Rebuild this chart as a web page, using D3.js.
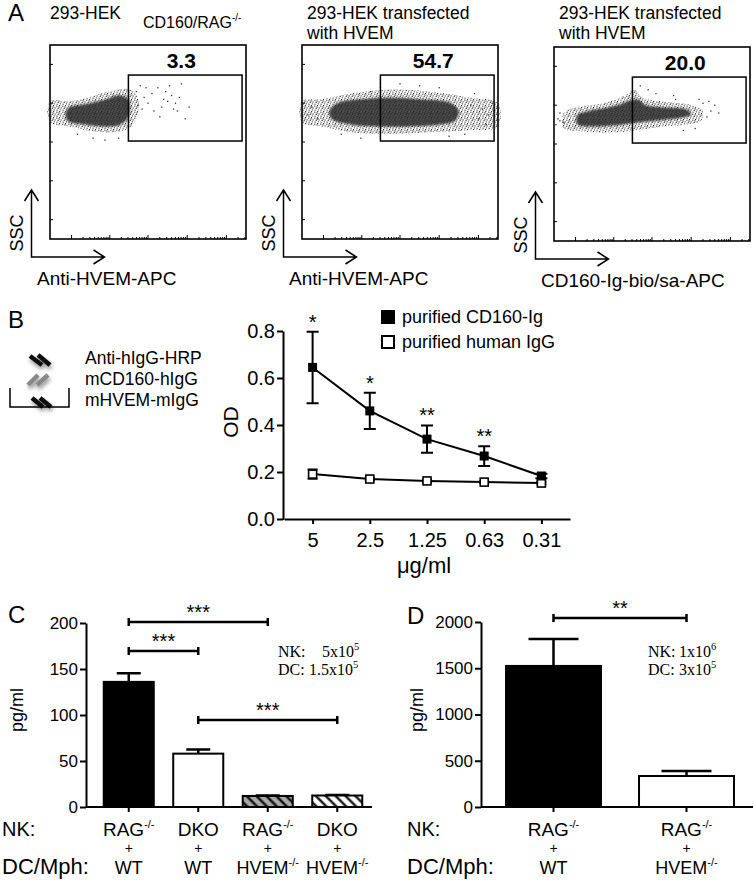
<!DOCTYPE html>
<html>
<head>
<meta charset="utf-8">
<script src="https://cdn.jsdelivr.net/npm/d3@7"></script>
<style>
  html, body { margin: 0; padding: 0; background: #fff; }
  svg { display: block; font-family: "Liberation Sans", Arial, sans-serif; }
  .serif { font-family: "Liberation Serif", "Times New Roman", serif; }
</style>
</head>
<body>
<svg id="fig" width="754" height="886"></svg>
<script>
// ---------- Panel A data (flow plots, axis units 0-100) ----------
const flowTitles = [["293-HEK"], ["293-HEK transfected", "with HVEM"], ["293-HEK transfected", "with HVEM"]];
const flowXLabels = ["Anti-HVEM-APC", "Anti-HVEM-APC", "CD160-Ig-bio/sa-APC"];
const gatePercents = ["3.3", "54.7", "20.0"];
const gateBounds = [40, 98, 50.5, 84.5]; // x0, x1, y0, y1

const coreClouds = [
  [[9,61],[18,59],[28,58],[36,59],[40,63],[40,72],[35,74],[27,71.5],[18,69.5],[10,68],[8,65]],
  [[15,62],[25,59],[40,58],[55,58],[70,59],[78,61],[80,66],[76,70],[60,72],[45,73],[30,72],[18,70],[14,66]],
  [[12,60],[20,59],[30,59.5],[38,60.5],[46,61.5],[56,62.5],[65,63.5],[70,65.5],[67,68],[55,69],[47,70],[43,73],[39,72.5],[34,70.5],[26,68.5],[18,67],[12,65]]
];
const haloClouds = [
  [[0,60],[10,58],[22,55.5],[32,55],[40,57],[44,62],[45,72],[41,77],[30,76],[20,73],[10,71],[0,71]],
  [[0,60],[10,58],[25,55],[45,54],[65,55],[85,56],[100,58],[100,70],[85,73],[65,76],[45,77],[25,75],[10,72],[0,71]],
  [[5,58],[15,56.5],[30,56],[42,57],[55,59],[68,60],[75,62],[76,67],[70,70],[55,72],[45,74],[41,78],[36,75],[25,71],[12,69],[5,66]]
];
const strayEvents = [
  [[44,76],[46,79],[48,73],[50,70],[52,75],[55,78],[57,68],[58,72],[60,71],[62,74],[63,67],[65,66],[66,73],
   [67,80],[69,62],[71,68],[53,66],[47,67],[49,78],[61,79],[45,69],[56,63],[59,76],[64,70],[22,52],[28,51],[14,54],[35,52]],
  [[3,64],[5,68],[8,62],[90,62],[92,67],[95,64],[97,70],[88,75],[83,54],[70,78],[60,79],[50,80],[40,78],[35,76],
   [20,54],[30,52],[75,53],[94,59],[98,66],[86,69]],
  [[2,63],[3,66],[1,60],[78,64],[80,67],[82,70],[79,72],[74,73],[61,75],[52,76],[48,78],[44,80],[72,58],[66,57],
   [62,73],[84,66],[76,71],[3,62],[5,61]]
];
const flowYTicks = [10, 30, 50, 70, 90];
const flowXDecades = [11, 30.5, 50, 70, 90];

// ---------- Panel B data ----------
const diagramLabels = ["Anti-hIgG-HRP", "mCD160-hIgG", "mHVEM-mIgG"];
const concLabels = ["5", "2.5", "1.25", "0.63", "0.31"];
const cd160Mean = [0.645, 0.46, 0.34, 0.268, 0.183];
const cd160Err = [0.152, 0.077, 0.058, 0.042, 0.01];
const igMean = [0.191, 0.17, 0.162, 0.157, 0.153];
const igErr = [0.02, 0.005, 0.005, 0.004, 0.005];
const odStars = ["*", "*", "**", "**", ""];
const odTicks = [0, 0.2, 0.4, 0.6, 0.8];
const legendLabels = ["purified CD160-Ig", "purified human IgG"];

// ---------- Panel C data ----------
const cNK = [["RAG", "-/-"], ["DKO", ""], ["RAG", "-/-"], ["DKO", ""]];
const cDC = [["WT", ""], ["WT", ""], ["HVEM", "-/-"], ["HVEM", "-/-"]];
const cMean = [136, 58, 12, 12.5];
const cErr = [9.5, 4.5, 0.5, 0.5];
const cFills = ["#000", "#fff", "hatchGray", "hatchWhite"];
const cBrackets = [[0, 2, 201, "***"], [0, 1, 169.5, "***"], [1, 3, 94.6, "***"]];
const cTicks = [0, 50, 100, 150, 200];

// ---------- Panel D data ----------
const dNK = [["RAG", "-/-"], ["RAG", "-/-"]];
const dDC = [["WT", ""], ["HVEM", "-/-"]];
const dMean = [1525, 335];
const dErr = [290, 55];
const dFills = ["#000", "#fff"];
const dBrackets = [[0, 1, 2043, "**"]];
const dTicks = [0, 500, 1000, 1500, 2000];

const svg = d3.select("#fig");
const defs = svg.append("defs");

// --- patterns / filters ---
const haloPat = defs.append("pattern").attr("id", "halo")
  .attr("width", 6).attr("height", 6).attr("patternUnits", "userSpaceOnUse");
[[0.8,1.2],[3.6,0.5],[2.2,3.4],[5.1,2.9],[1.1,5.2],[4.3,4.8],[3.0,2.0]].forEach(p =>
  haloPat.append("circle").attr("cx", p[0]).attr("cy", p[1]).attr("r", 0.65).attr("fill", "#2a2a2a"));

const corePat = defs.append("pattern").attr("id", "coreDots")
  .attr("width", 4).attr("height", 4).attr("patternUnits", "userSpaceOnUse");
corePat.append("rect").attr("width", 4).attr("height", 4).attr("fill", "#1a1a1a");
[[1,1],[3,2.6]].forEach(p =>
  corePat.append("circle").attr("cx", p[0]).attr("cy", p[1]).attr("r", 0.6).attr("fill", "#7a7a7a"));

function hatch(id, bg) {
  const p = defs.append("pattern").attr("id", id)
    .attr("width", 7).attr("height", 7).attr("patternUnits", "userSpaceOnUse")
    .attr("patternTransform", "rotate(-45)");
  p.append("rect").attr("width", 7).attr("height", 7).attr("fill", bg);
  p.append("line").attr("x1", 3.5).attr("y1", 0).attr("x2", 3.5).attr("y2", 7)
    .attr("stroke", "#000").attr("stroke-width", 2.2);
}
hatch("hatchGray", "#a8a8a8");
hatch("hatchWhite", "#fff");

defs.append("filter").attr("id", "soft")
  .append("feGaussianBlur").attr("stdDeviation", 0.9);

const sh = defs.append("filter").attr("id", "shadow").attr("x", "-50%").attr("y", "-50%").attr("width", "200%").attr("height", "200%");
sh.append("feGaussianBlur").attr("in", "SourceAlpha").attr("stdDeviation", 2).attr("result", "b");
sh.append("feOffset").attr("in", "b").attr("dx", 1).attr("dy", 3).attr("result", "o");
sh.append("feComponentTransfer").attr("in", "o").attr("result", "s")
  .append("feFuncA").attr("type", "linear").attr("slope", 0.45);
const shm = sh.append("feMerge");
shm.append("feMergeNode").attr("in", "s");
shm.append("feMergeNode").attr("in", "SourceGraphic");

function label(txt, x, y, size) {
  return svg.append("text").attr("x", x).attr("y", y).attr("font-size", size).text(txt);
}
function supText(sel, main, sup, supSize) {
  sel.append("tspan").text(main);
  if (sup) sel.append("tspan").attr("font-size", supSize).attr("dy", -supSize * 0.75).text(sup);
}

// =================== Panel A ===================
label("A", 8, 21, 24);
const flowBoxes = [{ x: 50, y: 45 }, { x: 302, y: 45 }, { x: 554, y: 47 }];
const FW = 196, FH = 194;
const titleX = [50, 307, 559];

flowTitles.forEach((lines, i) => {
  const b = flowBoxes[i];
  lines.forEach((t, k) => label(t, titleX[i], 19 + k * 19.5, 17.5));

  const g = svg.append("g").attr("transform", `translate(${b.x},${b.y})`);
  const x = d3.scaleLinear().domain([0, 100]).range([0, FW]);
  const y = d3.scaleLinear().domain([0, 100]).range([FH, 0]);
  const blob = d3.line().x(d => x(d[0])).y(d => y(d[1])).curve(d3.curveCatmullRomClosed);

  g.append("path").attr("d", blob(haloClouds[i])).attr("fill", "url(#halo)");
  g.append("path").attr("d", blob(coreClouds[i])).attr("fill", "url(#coreDots)").attr("opacity", 0.85).attr("filter", "url(#soft)");
  g.selectAll("rect.ev").data(strayEvents[i]).join("rect").attr("class", "ev")
    .attr("x", d => x(d[0]) - 0.6).attr("y", d => y(d[1]) - 0.6)
    .attr("width", 1.3).attr("height", 1.3).attr("fill", "#333");

  // ticks (inside)
  g.selectAll("line.yt").data(flowYTicks).join("line").attr("class", "yt")
    .attr("x1", 0).attr("x2", 3).attr("y1", d => y(d)).attr("y2", d => y(d))
    .attr("stroke", "#000").attr("stroke-width", 1);
  const xt = [];
  flowXDecades.forEach((m, j) => {
    xt.push({ v: m, len: 4 });
    if (j > 0) {
      const prev = flowXDecades[j - 1];
      for (let k = 2; k <= 9; k++) xt.push({ v: prev + (m - prev) * Math.log10(k), len: 2 });
    }
  });
  for (let k = 2; k <= 4; k++) xt.push({ v: 90 + 19.7 * Math.log10(k), len: 2 });
  g.selectAll("line.xt").data(xt.filter(d => d.v < 100)).join("line").attr("class", "xt")
    .attr("x1", d => x(d.v)).attr("x2", d => x(d.v)).attr("y1", FH).attr("y2", d => FH - d.len)
    .attr("stroke", "#000").attr("stroke-width", 1);

  g.append("rect").attr("width", FW).attr("height", FH)
    .attr("fill", "none").attr("stroke", "#000").attr("stroke-width", 1.6);

  g.append("rect")
    .attr("x", x(gateBounds[0])).attr("y", y(gateBounds[3]))
    .attr("width", x(gateBounds[1]) - x(gateBounds[0]))
    .attr("height", y(gateBounds[2]) - y(gateBounds[3]))
    .attr("fill", "none").attr("stroke", "#000").attr("stroke-width", 1.5);
  g.append("text").attr("x", x((gateBounds[0] + gateBounds[1]) / 2) - 4).attr("y", y(gateBounds[3]) - 7)
    .attr("text-anchor", "middle").attr("font-size", 21).attr("font-weight", "bold").text(gatePercents[i]);

  // arrows
  const ax = -18.5, ay0 = FH + 18, ayTop = ay0 - 67, axRight = ax + 73;
  g.append("path")
    .attr("d", `M${ax},${ayTop}V${ay0}H${axRight} M${ax - 7},${ayTop + 11}L${ax},${ayTop}L${ax + 7},${ayTop + 11} M${axRight - 11},${ay0 - 7}L${axRight},${ay0}L${axRight - 11},${ay0 + 7}`)
    .attr("fill", "none").attr("stroke", "#000").attr("stroke-width", 1.5);
  g.append("text").attr("transform", `translate(-27,${FH - 6}) rotate(-90)`)
    .attr("text-anchor", "middle").attr("font-size", 18).text("SSC");
  g.append("text").attr("x", -13).attr("y", FH + 46).attr("font-size", 19).text(flowXLabels[i]);
});
supText(svg.append("text").attr("x", 143).attr("y", 28).attr("font-size", 16), "CD160/RAG", "-/-", 10);

// =================== Panel B ===================
label("B", 8, 328, 24);

// schematic
const glyphs = [
  { c: "#111", pts: [[30, 356, 42, 365], [38, 355, 50, 365]] },
  { c: "#888", pts: [[28, 385, 38, 375], [37, 385, 48, 375]] },
  { c: "#111", pts: [[32, 398, 43, 407], [40, 398, 51, 407]] }
];
const sg = svg.append("g").attr("filter", "url(#shadow)");
glyphs.forEach(gl => gl.pts.forEach(p => sg.append("line")
  .attr("x1", p[0]).attr("y1", p[1]).attr("x2", p[2]).attr("y2", p[3])
  .attr("stroke", gl.c).attr("stroke-width", 4.5)));
svg.append("path").attr("d", "M10,388V407H69V388").attr("fill", "none").attr("stroke", "#000").attr("stroke-width", 1.5);
diagramLabels.forEach((t, i) => label(t, 85, 364 + i * 21, 17.5));

const xB = d3.scalePoint().domain(concLabels).range([284, 570]).padding(0.5);
const yB = d3.scaleLinear().domain([0, 0.8]).range([519, 331]);

function styleAxis(g, size) {
  g.attr("font-size", size).attr("font-family", "Liberation Sans, Arial, sans-serif");
  g.selectAll("path.domain, .tick line").attr("stroke-width", 2);
  g.selectAll("text").attr("fill", "#000");
}
svg.append("g").attr("transform", "translate(283,0)")
  .call(d3.axisLeft(yB).tickValues(odTicks).tickFormat(d3.format(".1f")).tickSize(6).tickPadding(2).tickSizeOuter(0))
  .call(g => styleAxis(g, 20));
svg.append("g").attr("transform", "translate(0,519)")
  .call(d3.axisBottom(xB).tickSize(5).tickPadding(9).tickSizeOuter(0))
  .call(g => styleAxis(g, 20));
svg.append("line").attr("x1", 283).attr("x2", 284).attr("y1", 519).attr("y2", 519).attr("stroke", "#000").attr("stroke-width", 2);

svg.append("text").attr("transform", "translate(238,422) rotate(-90)").attr("text-anchor", "middle").attr("font-size", 21).text("OD");
svg.append("text").attr("x", 424).attr("y", 573).attr("text-anchor", "middle").attr("font-size", 22).text("μg/ml");

const lineB = (vals) => d3.line().x((d, i) => xB(concLabels[i])).y(d => yB(d))(vals);
function errBars(mean, err, half) {
  svg.append("g").selectAll("path").data(mean).join("path")
    .attr("d", (d, i) => {
      const cx = xB(concLabels[i]), t = yB(d + err[i]), b = yB(d - err[i]);
      return `M${cx},${t}V${b} M${cx - half},${t}H${cx + half} M${cx - half},${b}H${cx + half}`;
    })
    .attr("fill", "none").attr("stroke", "#000").attr("stroke-width", 2);
}
errBars(igMean, igErr, 5);
svg.append("path").attr("d", lineB(igMean)).attr("fill", "none").attr("stroke", "#000").attr("stroke-width", 2);
svg.append("g").selectAll("rect").data(igMean).join("rect")
  .attr("x", (d, i) => xB(concLabels[i]) - 4).attr("y", d => yB(d) - 4)
  .attr("width", 8).attr("height", 8).attr("fill", "#fff").attr("stroke", "#000").attr("stroke-width", 1.6);

errBars(cd160Mean, cd160Err, 6);
svg.append("path").attr("d", lineB(cd160Mean)).attr("fill", "none").attr("stroke", "#000").attr("stroke-width", 2);
svg.append("g").selectAll("rect").data(cd160Mean).join("rect")
  .attr("x", (d, i) => xB(concLabels[i]) - 4.5).attr("y", d => yB(d) - 4.5)
  .attr("width", 9).attr("height", 9).attr("fill", "#000");
svg.append("g").selectAll("text").data(odStars).join("text")
  .attr("x", (d, i) => xB(concLabels[i])).attr("y", (d, i) => yB(cd160Mean[i] + cd160Err[i]) - 3)
  .attr("text-anchor", "middle").attr("font-size", 20).text(d => d);

// legend
svg.append("rect").attr("x", 381).attr("y", 310).attr("width", 14).attr("height", 14).attr("fill", "#000");
svg.append("rect").attr("x", 382).attr("y", 336).attr("width", 12).attr("height", 12).attr("fill", "#fff").attr("stroke", "#000").attr("stroke-width", 2);
legendLabels.forEach((t, i) => label(t, 402, 323 + i * 25, 18));

// =================== Panels C & D ===================
function barPanel(o) {
  const x = d3.scaleBand().domain(d3.range(o.mean.length)).range(o.xRange).paddingInner(o.pad).paddingOuter(o.pad / 2);
  const y = d3.scaleLinear().domain(o.yDomain).range([807, o.yTop]);
  const cx = i => x(i) + x.bandwidth() / 2;

  svg.append("g").attr("transform", `translate(${o.axisX},0)`)
    .call(d3.axisLeft(y).tickValues(o.ticks).tickFormat(d3.format("d")).tickSize(6).tickPadding(2).tickSizeOuter(0))
    .call(g => styleAxis(g, 17));
  svg.append("line").attr("x1", o.axisX).attr("x2", o.xRange[1]).attr("y1", 807).attr("y2", 807)
    .attr("stroke", "#000").attr("stroke-width", 2);
  svg.append("g").selectAll("line").data(o.mean).join("line")
    .attr("x1", (d, i) => cx(i)).attr("x2", (d, i) => cx(i)).attr("y1", 807).attr("y2", 812)
    .attr("stroke", "#000").attr("stroke-width", 2);

  // error bars (upper only)
  svg.append("g").selectAll("path").data(o.mean).join("path")
    .attr("d", (d, i) => {
      const t = y(d + o.err[i]);
      return `M${cx(i)},${y(d)}V${t} M${cx(i) - o.cap},${t}H${cx(i) + o.cap}`;
    })
    .attr("fill", "none").attr("stroke", "#000").attr("stroke-width", 2.5);
  svg.append("g").selectAll("rect").data(o.mean).join("rect")
    .attr("x", (d, i) => x(i)).attr("y", d => y(d))
    .attr("width", x.bandwidth()).attr("height", d => 807 - y(d))
    .attr("fill", (d, i) => o.fills[i].startsWith("#") ? o.fills[i] : `url(#${o.fills[i]})`)
    .attr("stroke", "#000").attr("stroke-width", 2);

  // significance brackets
  o.brackets.forEach(([a, b, v, s]) => {
    const yy = y(v);
    svg.append("path").attr("d", `M${cx(a)},${yy - 4}V${yy + 4} M${cx(a)},${yy}H${cx(b)} M${cx(b)},${yy - 4}V${yy + 4}`)
      .attr("fill", "none").attr("stroke", "#000").attr("stroke-width", 2.5);
    svg.append("text").attr("x", (cx(a) + cx(b)) / 2).attr("y", yy - 3)
      .attr("text-anchor", "middle").attr("font-size", 20).text(s);
  });

  // y label
  svg.append("text").attr("transform", `translate(${o.yLabelX},710) rotate(-90)`)
    .attr("text-anchor", "middle").attr("font-size", 18).text("pg/ml");

  // category rows
  label("NK:", o.rowX, 836, 20);
  label("DC/Mph:", o.rowX, 874, 22);
  o.nk.forEach((d, i) => {
    supText(svg.append("text").attr("x", cx(i)).attr("y", 836).attr("font-size", 19).attr("text-anchor", "middle"), d[0], d[1], 11);
    svg.append("text").attr("x", cx(i)).attr("y", 853).attr("font-size", 14).attr("text-anchor", "middle").text("+");
    supText(svg.append("text").attr("x", cx(i)).attr("y", 874).attr("font-size", 18).attr("text-anchor", "middle"), o.dc[i][0], o.dc[i][1], 11);
  });

  // cell-number annotation
  o.notes.forEach((n, k) => {
    const t = svg.append("text").attr("class", "serif").attr("font-size", 16).attr("y", 657 + k * 18);
    t.append("tspan").attr("x", o.noteX).text(n[0]);
    t.append("tspan").attr("x", o.noteX + n[1]).text(n[2]);
    t.append("tspan").attr("font-size", 10.5).attr("dy", -7).text(n[3]);
  });
}

label("C", 8, 623, 24);
barPanel({
  mean: cMean, err: cErr, fills: cFills, brackets: cBrackets, ticks: cTicks,
  nk: cNK, dc: cDC, xRange: [94, 372], pad: 0.28, axisX: 86,
  yDomain: [0, 200], yTop: 623, cap: 12, yLabelX: 23, rowX: 2, noteX: 278,
  notes: [["NK:", 44, "5x10", "5"], ["DC:", 31, "1.5x10", "5"]]
});

label("D", 407, 624, 24);
barPanel({
  mean: dMean, err: dErr, fills: dFills, brackets: dBrackets, ticks: dTicks,
  nk: dNK, dc: dDC, xRange: [487, 753], pad: 0.286, axisX: 481,
  yDomain: [0, 2000], yTop: 622, cap: 25, yLabelX: 423, rowX: 407, noteX: 648,
  notes: [["NK:", 31, "1x10", "6"], ["DC:", 31, "3x10", "5"]]
});
</script>
</body>
</html>
